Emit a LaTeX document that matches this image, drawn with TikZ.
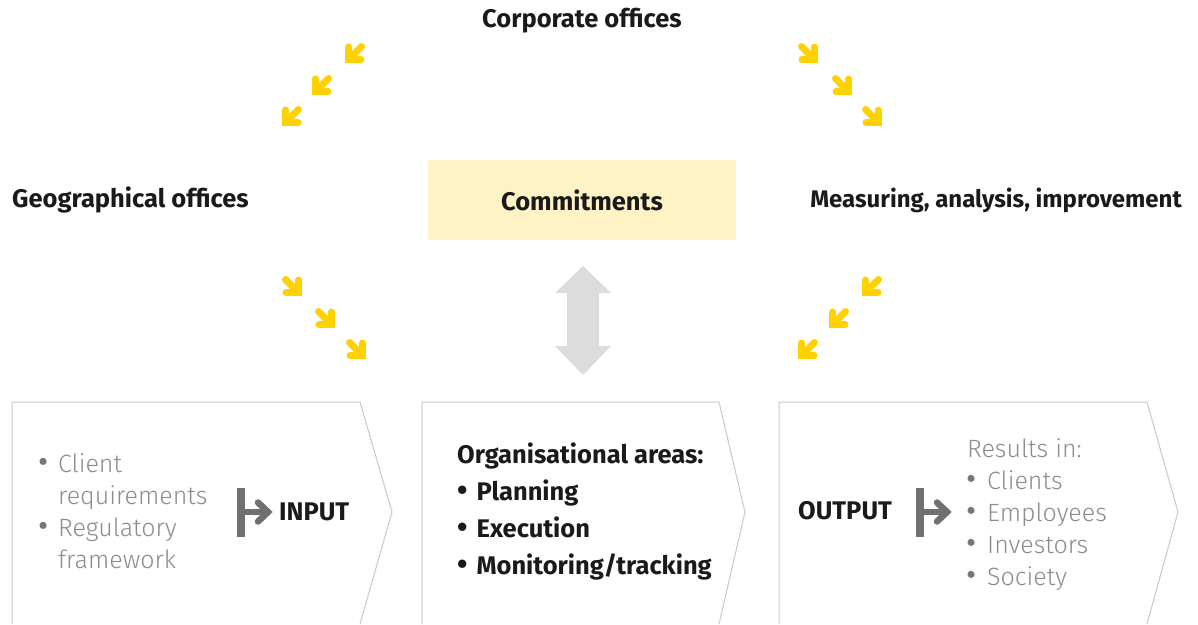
\documentclass[tikz,border=0pt]{standalone}
\usepackage{fontspec}
\setmainfont{Fira Sans}
\newfontfamily\lightfont{Fira Sans Light}
\usetikzlibrary{positioning}

\definecolor{ink}{HTML}{1A1A1A}
\definecolor{softgray}{HTML}{8C8C8C}
\definecolor{dotgray}{HTML}{777777}
\definecolor{icongray}{HTML}{707070}
\definecolor{edgegray}{HTML}{C8C8C8}
\definecolor{signyellow}{HTML}{FFD100}
\definecolor{commitfill}{HTML}{FFF2C4}
\definecolor{linkgray}{HTML}{DCDCDC}

\tikzset{
  head/.style={font=\fontsize{25.5}{25.5}\selectfont\bfseries, text=ink, inner sep=0pt},
  area/.style={font=\fontsize{25.5}{25.5}\selectfont\bfseries, text=ink, inner sep=0pt, anchor=base west},
  soft/.style={font=\fontsize{25}{25}\selectfont\lightfont, text=softgray, inner sep=0pt, anchor=base west},
  softdot/.style={font=\fontsize{31}{31}\selectfont, text=dotgray, inner sep=0pt, anchor=base west},
  chevbox/.style={draw=edgegray, line width=1pt},
  yarr/.pic={
    \draw[signyellow, line width=7, line cap=round] (3.5,-3.5) -- (16.5,-16.5);
    \draw[signyellow, line width=7, line cap=round, miter limit=4] (3.5,-16) -- (3.5,-3.5) -- (16,-3.5);
  },
  feed/.pic={
    \fill[icongray] (-4,-24.5) rectangle (4,24.5);
    \draw[icongray, line width=6.5] (4,0) -- (22,0);
    \draw[icongray, line width=6.5, line cap=round] (17,-9.5) -- (27,0) -- (17,9.5);
  }
}
\newcommand{\bigdot}{{\fontsize{30}{25}\selectfont\textbullet}\hspace{9pt}}

\begin{document}
\begin{tikzpicture}[x=1pt, y=-1pt]
  \useasboundingbox (0,0) rectangle (1198,624);

  % top row
  \node[head] (corp) at (582,21) {Corporate offices};
  \node[head, anchor=west] (geo) at (12,200) {Geographical offices};
  \node[head, anchor=east, font=\fontsize{24}{24}\selectfont\bfseries] (meas) at (1182,200) {Measuring, analysis, improvement};
  \node[head, fill=commitfill, minimum width=308, minimum height=80] (commit) at (582,200) {Commitments};

  % yellow arrows
  \foreach \px/\py in {345/63, 312/95, 282/126, 862/296, 829/328, 798/359}
    \pic at (\px,\py) {yarr};
  \foreach \px/\py in {818/63, 852/95, 882/126, 302/296, 335/328, 366/359}
    \pic[xscale=-1] at (\px,\py) {yarr};

  % link between commitments and areas
  \fill[linkgray] (583,266) -- (611,293) -- (599,293) -- (599,346) -- (611,346)
    -- (583,375) -- (555,346) -- (567,346) -- (567,293) -- (555,293) -- cycle;

  % process boxes
  \draw[chevbox] (12,624) -- (12,402) -- (360,402) -- (392,512) -- (360,624);
  \draw[chevbox] (422,624) -- (422,402) -- (719,402) -- (745,512) -- (719,624);
  \draw[chevbox] (779,624) -- (779,402) -- (1147,402) -- (1178,512) -- (1147,624);

  % input
  \node[softdot] (indot1) at (38,472) {\textbullet};
  \node[soft] (in1) at (58,472) {Client};
  \node[soft] (in2) at (58,504) {requirements};
  \node[softdot] (indot2) at (38,536) {\textbullet};
  \node[soft] (in3) at (58,536) {Regulatory};
  \node[soft] (in4) at (58,568) {framework};
  \pic at (241,512) {feed};
  \node[head, anchor=west] (input) at (279,512) {INPUT};

  % organisational areas
  \node[area] (org) at (457,463) {Organisational areas:};
  \node[area] (plan) at (457,500) {\bigdot Planning};
  \node[area] (exec) at (457,537) {\bigdot Execution};
  \node[area] (mon) at (457,574) {\bigdot Monitoring/tracking};

  % output
  \node[head, anchor=west] (output) at (798,511) {OUTPUT};
  \pic at (920,512) {feed};
  \node[soft] (res) at (967,457) {Results in:};
  \foreach \txt/\py [count=\i] in {Clients/489, Employees/521, Investors/553, Society/585} {
    \node[softdot] (outdot\i) at (966,\py) {\textbullet};
    \node[soft] (out\i) at (987,\py) {\txt};
  }
\end{tikzpicture}
\end{document}
